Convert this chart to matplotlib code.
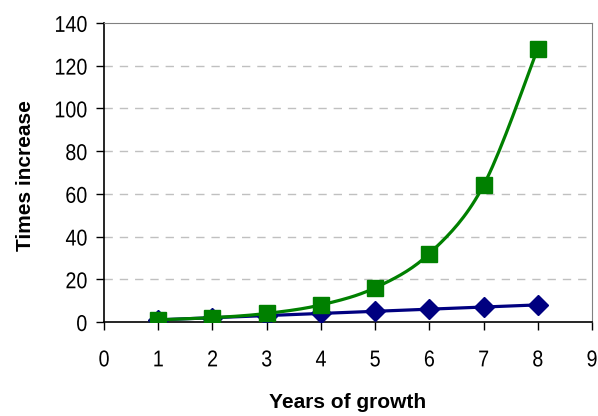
import numpy as np
import matplotlib
matplotlib.use("Agg")
import matplotlib.pyplot as plt
from matplotlib.patheffects import AbstractPathEffect
from matplotlib.transforms import Affine2D

years = [1, 2, 3, 4, 5, 6, 7, 8]
linear_vals = [1, 2, 3, 4, 5, 6, 7, 8]
exp_vals = [1, 2, 4, 8, 16, 32, 64, 128]
xticks = [0, 1, 2, 3, 4, 5, 6, 7, 8, 9]
yticks = [0, 20, 40, 60, 80, 100, 120, 140]

plt.rcParams['font.family'] = ['Liberation Sans', 'DejaVu Sans']


class Narrow(AbstractPathEffect):
    """Horizontally condense text glyphs around an anchor (Arial Narrow look)."""
    def __init__(self, sx=0.88, anchor='center'):
        super().__init__()
        self.sx = sx
        self.anchor = anchor

    def draw_path(self, renderer, gc, tpath, affine, rgbFace=None):
        ext = tpath.get_extents()
        if self.anchor == 'right':
            a = ext.x1
        elif self.anchor == 'left':
            a = ext.x0
        else:
            a = (ext.x0 + ext.x1) / 2
        t = Affine2D().translate(-a, 0).scale(self.sx, 1).translate(a, 0) + affine
        renderer.draw_path(gc, tpath, t, rgbFace)


def catmull(x, y, n=20):
    x = np.asarray(x, float); y = np.asarray(y, float)
    px = np.concatenate([[x[0]], x, [x[-1]]])
    py = np.concatenate([[y[0]], y, [y[-1]]])
    xs, ys = [], []
    t = np.linspace(0, 1, n)
    for i in range(1, len(px) - 2):
        p0, p1, p2, p3 = [np.array([px[j], py[j]]) for j in (i - 1, i, i + 1, i + 2)]
        m1 = (p2 - p0) / 2
        m2 = (p3 - p1) / 2
        h00 = 2*t**3 - 3*t**2 + 1
        h10 = t**3 - 2*t**2 + t
        h01 = -2*t**3 + 3*t**2
        h11 = t**3 - t**2
        pts = np.outer(h00, p1) + np.outer(h10, m1) + np.outer(h01, p2) + np.outer(h11, m2)
        xs.extend(pts[:, 0]); ys.extend(pts[:, 1])
    return np.array(xs), np.array(ys)


fig = plt.figure(figsize=(5.98, 4.16), dpi=100)
ax = fig.add_axes([0.174, 0.226, 0.816, 0.719])

ax.set_xlim(0, 9)
ax.set_ylim(0, 140)
for v in yticks[1:-1]:
    ax.axhline(v, color='#c0c0c0', lw=1, ls=(0, (6, 5)), zorder=1)

sx, sy = catmull(years, linear_vals)
ax.plot(sx, sy, color='#000080', lw=2.3, zorder=3)
ax.plot(years, linear_vals, ls='none', marker='D', ms=10, color='#000080', zorder=4)

sx, sy = catmull(years, exp_vals)
ax.plot(sx, sy, color='#008000', lw=2.3, zorder=5)
ax.plot(years, exp_vals, ls='none', marker='s', ms=12, color='#008000', zorder=6)

ax.set_xticks(xticks)
ax.set_yticks(yticks)
ax.set_xticklabels([str(v) for v in xticks])
ax.set_yticklabels([str(v) for v in yticks])
ax.tick_params(axis='both', labelsize=16.5, direction='out', length=6, width=1, color='black')
ax.tick_params(axis='x', pad=13)
ax.tick_params(axis='y', pad=6)
for lab in ax.get_xticklabels():
    lab.set_path_effects([Narrow(0.86, 'center')])
for lab in ax.get_yticklabels():
    lab.set_path_effects([Narrow(0.86, 'right')])
for s in ['top', 'right']:
    ax.spines[s].set_color('#808080')
for s in ['left', 'bottom']:
    ax.spines[s].set_color('black')
    ax.spines[s].set_linewidth(1.2)

fig.text(0.581, 0.01, 'Years of growth', ha='center', va='bottom', fontsize=15, fontweight='bold')
fig.text(0.026, 0.579, 'Times increase', ha='left', va='center', rotation=90, fontsize=15, fontweight='bold')

fig.savefig('out.png', dpi=100)
